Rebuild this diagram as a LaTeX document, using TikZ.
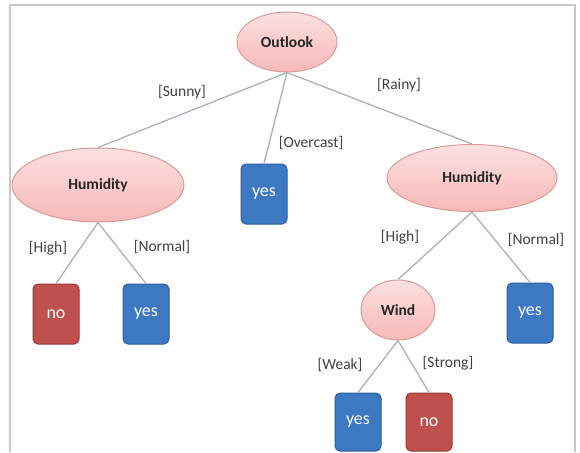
\documentclass[tikz,border=0pt]{standalone}
\usepackage{fontspec}
\setmainfont{Carlito}
\usetikzlibrary{shapes.geometric}
\definecolor{pinkfill}{HTML}{F7B8B8}
\definecolor{pinktop}{HTML}{FCE0E0}
\definecolor{pinkline}{HTML}{D99A9A}
\definecolor{bluebox}{HTML}{3D78C2}
\definecolor{blueline}{HTML}{2E5E9E}
\definecolor{redbox}{HTML}{C0504D}
\definecolor{redline}{HTML}{953735}
\definecolor{edgecol}{HTML}{A8B2BC}
\definecolor{labcol}{HTML}{404040}
\definecolor{framecol}{HTML}{C8C8C8}
\tikzset{
  x=1pt, y=-1pt,
  decision/.style={ellipse, draw=pinkline, line width=1pt, top color=pinktop, bottom color=pinkfill,
    inner sep=0pt, font=\bfseries\fontsize{15.5}{17}\selectfont, text=black!85},
  leafbox/.style={rounded corners=5pt, line width=1pt, minimum width=46pt, minimum height=60pt,
    inner sep=0pt, text=white, font=\fontsize{18}{20}\selectfont},
  yesleaf/.style={leafbox, draw=blueline, fill=bluebox},
  noleaf/.style={leafbox, draw=redline, fill=redbox},
  branch/.style={draw=edgecol, line width=1.3pt},
  blab/.style={font=\fontsize{15.5}{17}\selectfont, text=labcol, inner sep=1pt}
}
\begin{document}
\begin{tikzpicture}
\useasboundingbox (0,0) rectangle (580,452);
\fill[white] (0,0) rectangle (580,452);
\draw[framecol, line width=2pt] (10,452) -- (10,5) -- (575,5) -- (575,452);
% nodes
\node[decision, minimum width=100pt, minimum height=60pt] (outlook) at (287,42) {Outlook};
\node[decision, minimum width=172pt, minimum height=74pt] (humL) at (98,185) {Humidity};
\node[yesleaf] (yesO) at (264,194) {yes};
\node[decision, minimum width=170pt, minimum height=67pt] (humR) at (472,178) {Humidity};
\node[noleaf] (noL) at (56,314) {no};
\node[yesleaf] (yesL) at (146,314) {yes};
\node[decision, minimum width=74pt, minimum height=60pt] (wind) at (398,310) {Wind};
\node[yesleaf] (yesR) at (530,313) {yes};
\node[yesleaf, minimum height=58pt] (yesW) at (358,422) {yes};
\node[noleaf, minimum height=58pt] (noW) at (429,422) {no};
% edges
\path[branch] (outlook.south) -- (humL.north);
\path[branch] (outlook.south) -- (yesO.north);
\path[branch] (outlook.south) -- (humR.north);
\path[branch] (humL.south) -- (noL.north);
\path[branch] (humL.south) -- (yesL.north);
\path[branch] (humR.south) -- (wind.north);
\path[branch] (humR.south) -- (yesR.north);
\path[branch] (wind.south) -- (yesW.north);
\path[branch] (wind.south) -- (noW.north);
% labels
\node[blab] (lSunny) at (182,92) {[Sunny]};
\node[blab] (lRainy) at (399,85) {[Rainy]};
\node[blab] (lOver) at (311,143) {[Overcast]};
\node[blab] (lHighL) at (48,248) {[High]};
\node[blab] (lNormL) at (162,247) {[Normal]};
\node[blab] (lHighR) at (400,237) {[High]};
\node[blab] (lNormR) at (536,240) {[Normal]};
\node[blab] (lWeak) at (340,365) {[Weak]};
\node[blab] (lStrong) at (448,363) {[Strong]};
\end{tikzpicture}
\end{document}
